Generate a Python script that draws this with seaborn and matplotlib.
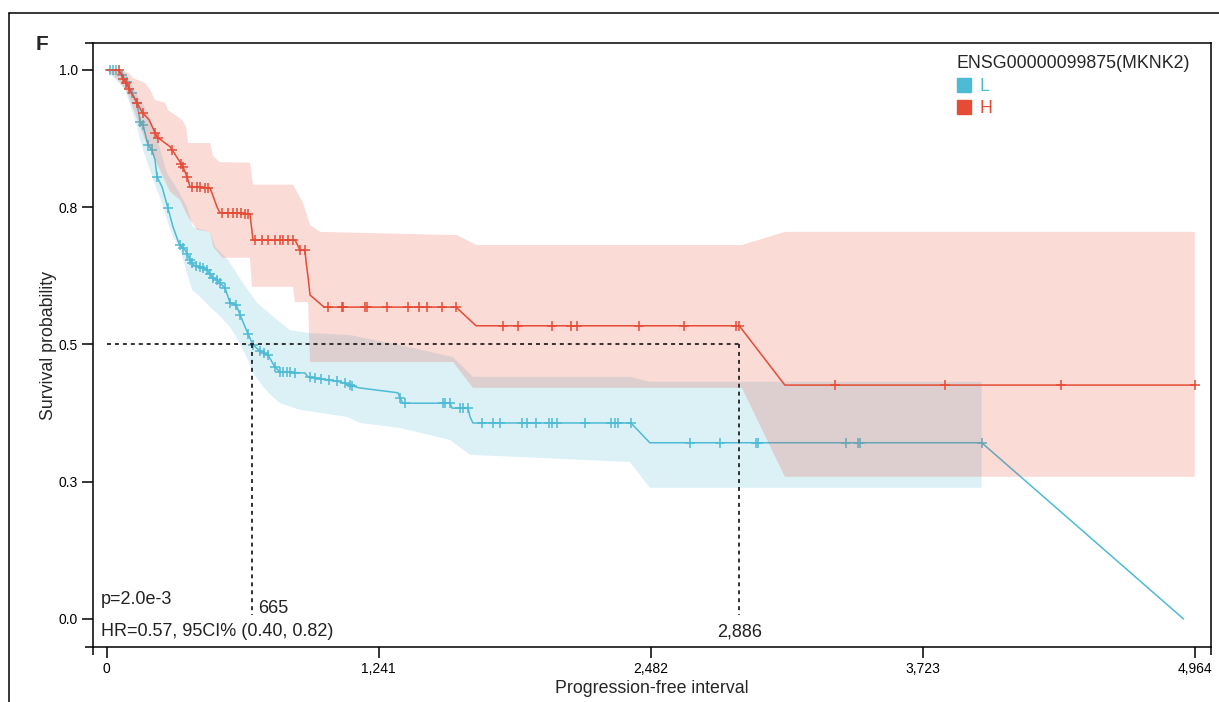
import numpy as np
import matplotlib
matplotlib.use("Agg")
import matplotlib.pyplot as plt
from matplotlib.lines import Line2D
import seaborn as sns

# ---------------- data ----------------
legend_title = "ENSG00000099875(MKNK2)"
group_labels = ["L", "H"]
group_colors = ["#4DBBD5", "#E64B35"]

# Low-expression group (L): curve vertices (time, survival)
L_time = [0, 52, 71, 93, 116, 139, 153, 166, 189, 207, 221, 230, 253, 276, 303, 331, 358,
          381, 394, 426, 458, 481, 504, 540, 563, 591, 609, 641, 668, 700, 736, 768, 791,
          905, 919, 1065, 1151, 1329, 1338, 1352, 1567, 1576, 1649, 1658, 1671, 2392, 2478,
          3992, 4913]
L_surv = [1.0, 1.0, 0.991, 0.978, 0.958, 0.940, 0.905, 0.900, 0.863, 0.854, 0.836, 0.805,
          0.787, 0.754, 0.714, 0.683, 0.672, 0.654, 0.645, 0.641, 0.636, 0.623, 0.617, 0.603,
          0.576, 0.572, 0.554, 0.523, 0.499, 0.488, 0.481, 0.459, 0.450, 0.448, 0.441, 0.432,
          0.421, 0.412, 0.403, 0.393, 0.393, 0.384, 0.384, 0.368, 0.357, 0.357, 0.321, 0.321,
          0.0]
L_censor = [16, 30, 43, 71, 93, 116, 139, 153, 166, 189, 207, 230, 280, 335, 349, 367, 381,
            390, 408, 426, 440, 458, 472, 486, 504, 517, 540, 563, 591, 609, 645, 668, 700,
            718, 736, 768, 791, 805, 823, 837, 860, 928, 951, 979, 1015, 1051, 1087, 1110,
            1119, 1338, 1362, 1535, 1544, 1567, 1612, 1626, 1649, 1712, 1762, 1794, 1894,
            1917, 1958, 2018, 2031, 2054, 2182, 2300, 2319, 2332, 2392, 2661, 2797, 2962,
            2971, 3372, 3427, 3436, 3992]
# 95% CI band for L
L_ci_up_time = [0, 84, 144, 189, 235, 276, 326, 367, 394, 472, 495, 554, 622, 686, 777, 837,
                919, 1110, 1338, 1580, 1671, 2387, 2478, 3992]
L_ci_up = [1.0, 0.995, 0.951, 0.922, 0.867, 0.812, 0.781, 0.750, 0.714, 0.705, 0.678, 0.654,
           0.612, 0.576, 0.545, 0.526, 0.521, 0.517, 0.499, 0.477, 0.441, 0.441, 0.432, 0.432]
L_ci_lo_time = [0, 84, 130, 166, 198, 230, 253, 276, 303, 335, 349, 372, 390, 426, 472, 504,
                563, 600, 645, 668, 714, 759, 791, 882, 1097, 1156, 1338, 1567, 1658, 2387,
                2478, 3992]
L_ci_lo = [1.0, 0.964, 0.909, 0.854, 0.818, 0.781, 0.758, 0.727, 0.696, 0.676, 0.654, 0.623,
           0.599, 0.587, 0.568, 0.557, 0.532, 0.508, 0.472, 0.448, 0.423, 0.404, 0.393, 0.381,
           0.368, 0.357, 0.348, 0.326, 0.299, 0.286, 0.239, 0.239]

# High-expression group (H)
H_time = [0, 57, 75, 93, 103, 139, 162, 194, 230, 290, 335, 349, 367, 381, 472, 504, 517,
          654, 668, 860, 882, 905, 910, 919, 928, 992, 1594, 1685, 2886, 3094, 4964]
H_surv = [1.0, 1.0, 0.984, 0.973, 0.965, 0.940, 0.923, 0.909, 0.878, 0.860, 0.832, 0.823,
          0.805, 0.787, 0.785, 0.750, 0.740, 0.738, 0.690, 0.690, 0.672, 0.672, 0.650, 0.623,
          0.590, 0.568, 0.568, 0.534, 0.534, 0.426, 0.426]
H_censor = [57, 75, 89, 103, 139, 166, 221, 235, 299, 340, 349, 367, 390, 413, 426, 449, 463,
            527, 554, 577, 595, 613, 632, 645, 677, 709, 736, 768, 791, 805, 828, 850, 882,
            905, 1010, 1074, 1078, 1179, 1188, 1279, 1375, 1425, 1462, 1530, 1594, 1808, 1876,
            2031, 2118, 2145, 2428, 2633, 2870, 2886, 3322, 3823, 4353, 4964]
H_ci_up_time = [0, 62, 98, 121, 176, 198, 221, 267, 280, 312, 344, 363, 372, 472, 486, 517,
                654, 668, 850, 896, 928, 974, 1598, 1689, 2898, 3094, 4964]
H_ci_up = [1.0, 1.0, 0.995, 0.985, 0.976, 0.964, 0.945, 0.940, 0.927, 0.918, 0.909, 0.896,
           0.867, 0.867, 0.843, 0.832, 0.831, 0.791, 0.791, 0.758, 0.718, 0.705, 0.699, 0.681,
           0.681, 0.705, 0.705]
H_ci_lo_time = [0, 52, 93, 116, 144, 176, 212, 253, 290, 335, 372, 413, 472, 486, 527, 654,
                663, 850, 860, 919, 928, 1580, 1671, 2898, 3094, 4964]
H_ci_lo = [1.0, 0.982, 0.960, 0.936, 0.905, 0.872, 0.845, 0.809, 0.778, 0.763, 0.732, 0.709,
           0.705, 0.678, 0.658, 0.658, 0.605, 0.605, 0.577, 0.577, 0.468, 0.468, 0.421, 0.421,
           0.259, 0.259]

median_times = [665, 2886]
median_labels = ["665", "2,886"]
median_level = 0.5
median_line_bottom = 0.007

x_ticks = [0, 1241, 2482, 3723, 4964]
x_ticklabels = ["0", "1,241", "2,482", "3,723", "4,964"]
y_ticks = [0.0, 0.25, 0.5, 0.75, 1.0]
y_ticklabels = ["0.0", "0.3", "0.5", "0.8", "1.0"]

p_text = "p=2.0e-3"
hr_text = "HR=0.57, 95CI% (0.40, 0.82)"
x_label = "Progression-free interval"
y_label = "Survival probability"
panel_letter = "F"

# ---------------- style ----------------
sns.set_theme(style="ticks")
plt.rcParams["font.family"] = ["Liberation Sans", "DejaVu Sans"]
plt.rcParams["axes.linewidth"] = 1.1

W, H = 1219, 702
fig = plt.figure(figsize=(W / 100, H / 100), dpi=100)
ax = fig.add_axes([93 / W, 1 - 647 / H, (1211 - 93) / W, (647 - 43) / H])

LW = 1.1
blue, red = group_colors
TXT = 13

# L band + line
ax.fill(np.concatenate([L_ci_up_time, L_ci_lo_time[::-1]]),
        np.concatenate([L_ci_up, L_ci_lo[::-1]]), color=blue, alpha=0.2, lw=0, zorder=1)
sns.lineplot(x=L_time, y=L_surv, sort=False, estimator=None, color=blue, lw=LW, ax=ax, zorder=2)
ax.plot(L_censor, np.interp(L_censor, L_time, L_surv), ls="none", marker="+",
        ms=7.5, mew=1.1, color=blue, zorder=2)

# H band + line (drawn over L)
ax.fill(np.concatenate([H_ci_up_time, H_ci_lo_time[::-1]]),
        np.concatenate([H_ci_up, H_ci_lo[::-1]]), color=red, alpha=0.2, lw=0, zorder=3)
sns.lineplot(x=H_time, y=H_surv, sort=False, estimator=None, color=red, lw=LW, ax=ax, zorder=4)
ax.plot(H_censor, np.interp(H_censor, H_time, H_surv), ls="none", marker="+",
        ms=7.5, mew=1.1, color=red, zorder=4)

# median guide lines
dash = (0, (2.2, 2.2))
ax.plot([0, max(median_times)], [median_level, median_level], color="#222222",
        lw=1.3, ls=dash, zorder=5)
for mt in median_times:
    ax.plot([mt, mt], [median_level, median_line_bottom], color="#222222", lw=1.3,
            ls=dash, zorder=5)
ax.text(median_times[0] + 25, 0.02, median_labels[0], fontsize=TXT, ha="left",
        va="center", color="#222222")
ax.text(median_times[1], -0.024, median_labels[1], fontsize=TXT, ha="center",
        va="center", color="#222222")

ax.text(0.007, 0.078, p_text, transform=ax.transAxes, fontsize=TXT, ha="left",
        va="center", color="#222222")
ax.text(0.007, 0.025, hr_text, transform=ax.transAxes, fontsize=TXT, ha="left",
        va="center", color="#222222")

ax.set_xlim(-62, 5038)
ax.set_ylim(-0.051, 1.049)
ax.set_xticks(x_ticks)
ax.set_xticklabels(x_ticklabels)
ax.set_yticks(y_ticks)
ax.set_yticklabels(y_ticklabels)
ax.tick_params(axis="both", length=8, width=1.1, direction="out", labelsize=10,
               colors="black", pad=3)
ax.set_xlabel(x_label, fontsize=12.8, labelpad=3)
ax.set_ylabel(y_label, fontsize=12.8, labelpad=1)
for s in ax.spines.values():
    s.set_visible(True)
    s.set_color("black")
    s.set_linewidth(LW)

# spine extensions (box lines run past the corners by the tick length)
dx = 8 / (1211 - 93)
dy = 8 / (647 - 43)
for xs, ys in [([-dx, 0], [1, 1]), ([-dx, 0], [0, 0]), ([0, 0], [-dy, 0]), ([1, 1], [-dy, 0])]:
    ax.plot(xs, ys, transform=ax.transAxes, clip_on=False, color="black", lw=LW,
            solid_capstyle="butt")

# legend
handles = [Line2D([], [], marker="s", ls="none", color=c, markersize=10.5) for c in group_colors]
leg = ax.legend(handles, group_labels, title=legend_title, loc="upper left",
                bbox_to_anchor=(0.772, 0.980), frameon=False, fontsize=12.8,
                title_fontsize=12.8, handlelength=0.85, handletextpad=0.45,
                labelspacing=0.32, borderaxespad=0, borderpad=0)
leg._legend_box.align = "left"
for t, c in zip(leg.get_texts(), group_colors):
    t.set_color(c)

# outer panel frame and letter
fx, fy = 9 / W, 1 - 13 / H
fig.add_artist(Line2D([fx, fx], [-0.01, fy], transform=fig.transFigure, color="black", lw=1.1))
fig.add_artist(Line2D([fx, 1.01], [fy, fy], transform=fig.transFigure, color="black", lw=1.1))
fig.text(36 / W, 1 - 45 / H, panel_letter, fontsize=15, fontweight="bold", ha="left",
         va="center")

fig.savefig("out.png", dpi=100)
